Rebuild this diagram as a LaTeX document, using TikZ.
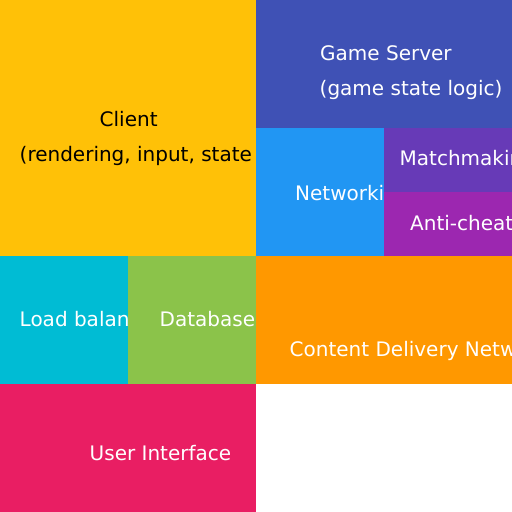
\documentclass[tikz,border=0pt]{standalone}
\usepackage{fontspec}
\setmainfont{DejaVu Sans}
\definecolor{clientcol}{HTML}{FFC107}
\definecolor{servercol}{HTML}{3F51B5}
\definecolor{netcol}{HTML}{2196F3}
\definecolor{matchcol}{HTML}{673AB7}
\definecolor{cheatcol}{HTML}{9C27B0}
\definecolor{lbcol}{HTML}{00BCD4}
\definecolor{dbcol}{HTML}{8BC34A}
\definecolor{cdncol}{HTML}{FF9800}
\definecolor{uicol}{HTML}{E91E63}

\begin{document}
\begin{tikzpicture}[x=1pt,y=1pt,
  lbl/.style={anchor=base west,inner sep=0pt,text=white,font=\fontsize{20}{24}\selectfont}]
  \useasboundingbox (0,0) rectangle (512,512);
  % Client
  \begin{scope}
    \clip (0,256) rectangle (256,512);
    \fill[clientcol] (0,256) rectangle (256,512);
    \node[lbl,text=black] (client) at (99.5,385.5) {Client};
    \node[lbl,text=black] (clientsub) at (19.5,350.5) {(rendering, input, state logic)};
  \end{scope}
  % Game Server
  \begin{scope}
    \clip (256,384) rectangle (512,512);
    \fill[servercol] (256,384) rectangle (512,512);
    \node[lbl] (server) at (320,451.5) {Game Server};
    \node[lbl] (serversub) at (319.5,416.5) {(game state logic)};
  \end{scope}
  % Networking
  \begin{scope}
    \clip (256,256) rectangle (384,384);
    \fill[netcol] (256,256) rectangle (384,384);
    \node[lbl] (net) at (295,311) {Networking};
  \end{scope}
  % Matchmaking
  \begin{scope}
    \clip (384,320) rectangle (512,384);
    \fill[matchcol] (384,320) rectangle (512,384);
    \node[lbl] (match) at (399.5,346.5) {Matchmaking};
  \end{scope}
  % Anti-cheat
  \begin{scope}
    \clip (384,256) rectangle (512,320);
    \fill[cheatcol] (384,256) rectangle (512,320);
    \node[lbl] (cheat) at (410,281.5) {Anti-cheat};
  \end{scope}
  % Load balancer
  \begin{scope}
    \clip (0,128) rectangle (128,256);
    \fill[lbcol] (0,128) rectangle (128,256);
    \node[lbl] (lb) at (19.5,185.5) {Load balancer};
  \end{scope}
  % Database
  \begin{scope}
    \clip (128,128) rectangle (256,256);
    \fill[dbcol] (128,128) rectangle (256,256);
    \node[lbl] (db) at (159.5,185.5) {Database};
  \end{scope}
  % CDN
  \begin{scope}
    \clip (256,128) rectangle (512,256);
    \fill[cdncol] (256,128) rectangle (512,256);
    \node[lbl] (cdn) at (289.5,155.5) {Content Delivery Network};
  \end{scope}
  % User Interface
  \begin{scope}
    \clip (0,0) rectangle (256,128);
    \fill[uicol] (0,0) rectangle (256,128);
    \node[lbl] (ui) at (89.5,51.5) {User Interface};
  \end{scope}
\end{tikzpicture}
\end{document}
